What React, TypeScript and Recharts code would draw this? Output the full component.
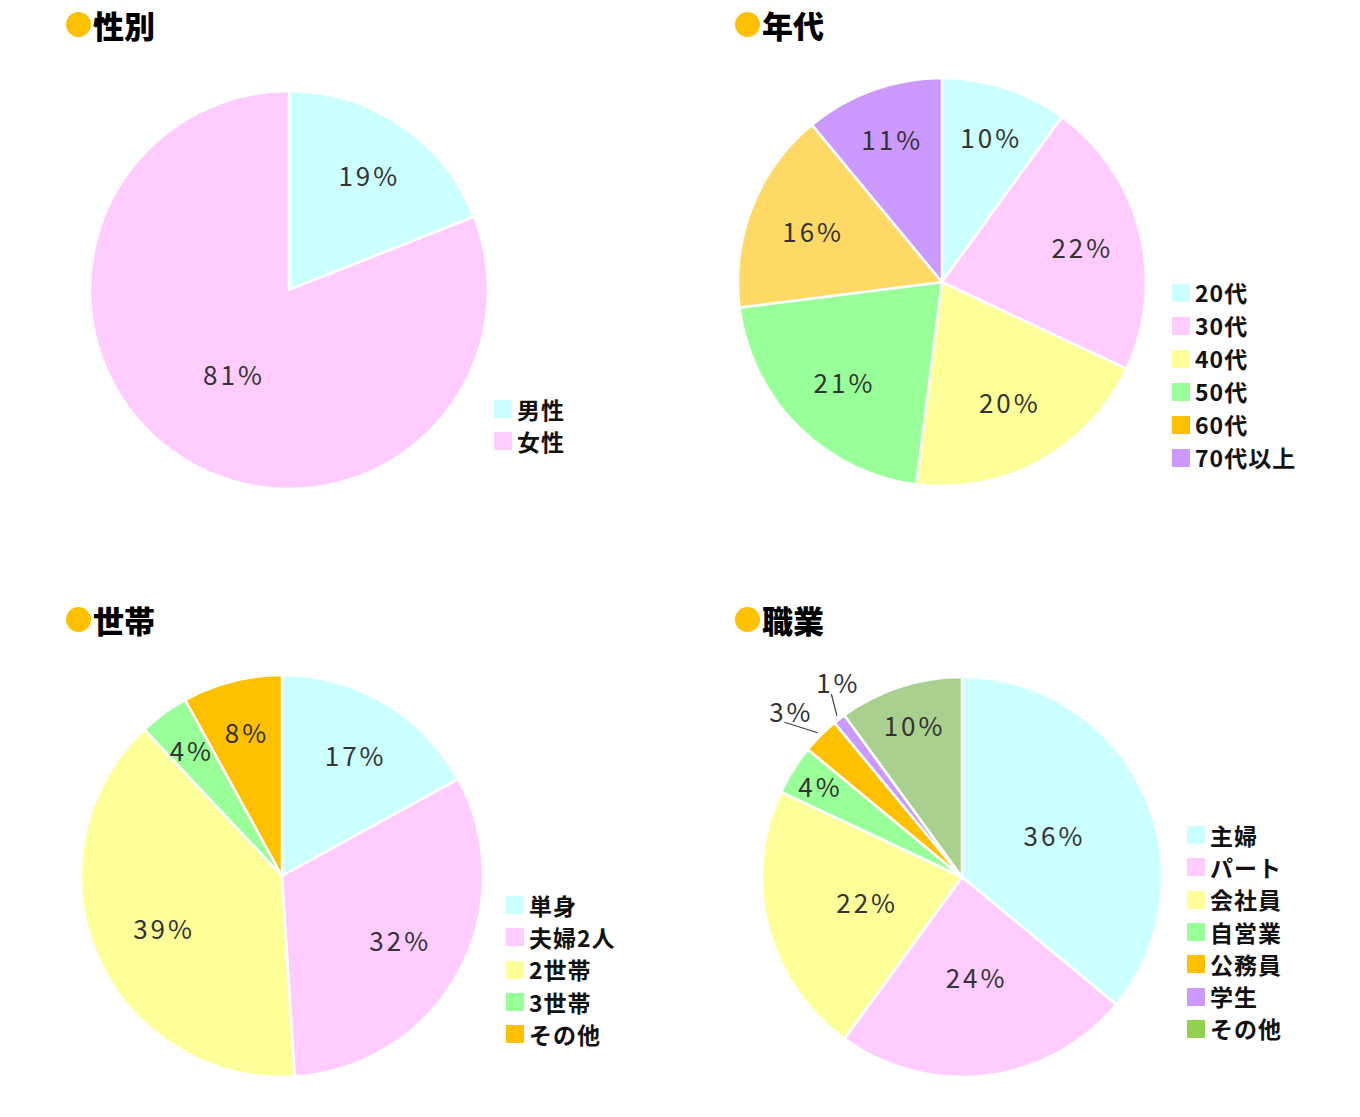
import React from "react";
import { Cell, Legend, Pie, PieChart } from "recharts";

// 性別
const genderNames = ["男性", "女性"];
const genderValues = [19, 81];

// 年代
const ageNames = ["20代", "30代", "40代", "50代", "60代", "70代以上"];
const ageValues = [10, 22, 20, 21, 16, 11];

// 世帯
const householdNames = ["単身", "夫婦2人", "2世帯", "3世帯", "その他"];
const householdValues = [17, 32, 39, 4, 8];

// 職業
const jobNames = ["主婦", "パート", "会社員", "自営業", "公務員", "学生", "その他"];
const jobValues = [36, 24, 22, 4, 3, 1, 10];

const CYAN = "#ccffff";
const PINK = "#ffccff";
const YELLOW = "#ffff99";
const GREEN = "#99ff99";
const ORANGE = "#ffc000";
const PURPLE = "#cc99ff";

const font = "'Noto Sans CJK JP', 'Noto Sans', sans-serif";
const RADIAN = Math.PI / 180;

type Panel = {
  title: string;
  names: string[];
  values: number[];
  fills: string[];
  legendFills: string[];
  labelAt: number[]; // label distance, as a share of the radius
  labelTurn?: number[]; // small angle nudge for outside labels, degrees
  left: number;
  top: number;
  titleLeft: number;
  titleTop: number;
  cx: number;
  cy: number;
  radius: number;
  legendLeft: number;
  legendTop: number;
  legendGap: number;
};

const panels: Panel[] = [
  {
    title: "性別",
    names: genderNames,
    values: genderValues,
    fills: [CYAN, PINK],
    legendFills: [CYAN, PINK],
    labelAt: [0.7, 0.51],
    left: 0,
    top: 0,
    titleLeft: 66,
    titleTop: 2,
    cx: 289,
    cy: 290,
    radius: 199,
    legendLeft: 494,
    legendTop: 393,
    legendGap: 32,
  },
  {
    title: "年代",
    names: ageNames,
    values: ageValues,
    fills: [CYAN, PINK, YELLOW, GREEN, "#ffd966", PURPLE],
    legendFills: [CYAN, PINK, YELLOW, GREEN, ORANGE, PURPLE],
    labelAt: [0.75, 0.7, 0.67, 0.69, 0.69, 0.75],
    left: 680,
    top: 0,
    titleLeft: 55,
    titleTop: 2,
    cx: 262,
    cy: 282,
    radius: 204,
    legendLeft: 492,
    legendTop: 276,
    legendGap: 33,
  },
  {
    title: "世帯",
    names: householdNames,
    values: householdValues,
    fills: [CYAN, PINK, YELLOW, GREEN, ORANGE],
    legendFills: [CYAN, PINK, YELLOW, GREEN, ORANGE],
    labelAt: [0.7, 0.66, 0.65, 0.78, 0.74],
    left: 0,
    top: 558,
    titleLeft: 66,
    titleTop: 39,
    cx: 282,
    cy: 318,
    radius: 201,
    legendLeft: 506,
    legendTop: 331,
    legendGap: 32.3,
  },
  {
    title: "職業",
    names: jobNames,
    values: jobValues,
    fills: [CYAN, PINK, YELLOW, GREEN, ORANGE, PURPLE, "#a9d08e"],
    legendFills: [CYAN, PINK, YELLOW, GREEN, ORANGE, PURPLE, "#92d050"],
    labelAt: [0.5, 0.5, 0.5, 0.85, 1.2, 1.16, 0.8],
    labelTurn: [0, 0, 0, 0, 1, -5, 0],
    left: 680,
    top: 558,
    titleLeft: 55,
    titleTop: 39,
    cx: 282,
    cy: 319,
    radius: 200,
    legendLeft: 507,
    legendTop: 261,
    legendGap: 32.3,
  },
];

function makeLabel(p: Panel) {
  return (props: any) => {
    const { cx, cy, midAngle, outerRadius, index, value } = props;
    const k = p.labelAt[index];
    const turn = p.labelTurn ? p.labelTurn[index] : 0;
    const a = (midAngle + turn) * RADIAN;
    const x = cx + outerRadius * k * Math.cos(-a);
    const y = cy + outerRadius * k * Math.sin(-a);
    const m = midAngle * RADIAN;
    return (
      <g key={`label-${index}`}>
        {k > 1 && (
          <line
            x1={cx + outerRadius * 1.02 * Math.cos(-m)}
            y1={cy + outerRadius * 1.02 * Math.sin(-m)}
            x2={x - 5}
            y2={y + 12}
            stroke="#404040"
            strokeWidth={1.2}
          />
        )}
        <text
          x={x + 2}
          y={y}
          fill="#333333"
          textAnchor="middle"
          dominantBaseline="central"
          fontFamily={font}
          fontSize={26}
          fontWeight={400}
          letterSpacing={3}
        >
          {`${value}%`}
        </text>
      </g>
    );
  };
}

function SideLegend({ names, fills, gap }: { names: string[]; fills: string[]; gap: number }) {
  return (
    <div style={{ fontFamily: font }}>
      {names.map((name, i) => (
        <div
          key={name}
          style={{ display: "flex", alignItems: "center", height: gap }}
        >
          <span style={{ width: 18, height: 18, background: fills[i], marginRight: 5 }} />
          <span
            style={{
              fontSize: 23,
              fontWeight: 700,
              color: "#111",
              lineHeight: 1,
              letterSpacing: 1,
            }}
          >
            {name}
          </span>
        </div>
      ))}
    </div>
  );
}

function PiePanel({ p }: { p: Panel }) {
  const data = p.names.map((name, i) => ({ name, value: p.values[i] }));
  return (
    <div style={{ position: "absolute", left: p.left, top: p.top, width: 680, height: 558 }}>
      <div
        style={{
          position: "absolute",
          left: p.titleLeft,
          top: p.titleTop,
          display: "flex",
          alignItems: "center",
          fontFamily: font,
          fontWeight: 900,
          fontSize: 31,
          color: "#000",
        }}
      >
        <span
          style={{
            width: 25,
            height: 25,
            borderRadius: 13,
            background: ORANGE,
            marginRight: 2,
          }}
        />
        {p.title}
      </div>
      <PieChart width={680} height={558} margin={{ top: 0, right: 0, bottom: 0, left: 0 }}>
        <Pie
          data={data}
          dataKey="value"
          nameKey="name"
          cx={p.cx}
          cy={p.cy}
          outerRadius={p.radius}
          startAngle={90}
          endAngle={-270}
          stroke="#ffffff"
          strokeWidth={2.5}
          label={makeLabel(p)}
          labelLine={false}
          isAnimationActive={false}
        >
          {data.map((d, i) => (
            <Cell key={d.name} fill={p.fills[i]} />
          ))}
        </Pie>
        <Legend
          layout="vertical"
          wrapperStyle={{ position: "absolute", left: p.legendLeft, top: p.legendTop, width: 170 }}
          content={() => <SideLegend names={p.names} fills={p.legendFills} gap={p.legendGap} />}
        />
      </PieChart>
    </div>
  );
}

export default function App() {
  return (
    <div
      style={{
        position: "absolute",
        left: 0,
        top: 0,
        width: 1360,
        height: 1117,
        background: "#ffffff",
      }}
    >
      {panels.map((p) => (
        <PiePanel key={p.title} p={p} />
      ))}
    </div>
  );
}
